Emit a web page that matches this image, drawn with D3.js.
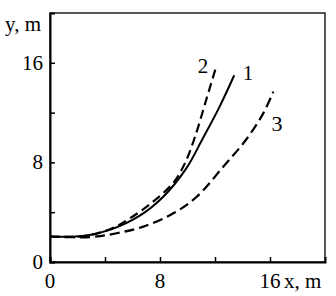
<!DOCTYPE html>
<html>
<head>
<meta charset="utf-8">
<script src="https://cdn.jsdelivr.net/npm/d3@7"></script>
<style>
  body { margin: 0; background: #fff; }
  text { font-family: "Liberation Serif", "DejaVu Serif Condensed", "DejaVu Serif", serif; font-stretch: condensed; }
</style>
</head>
<body>
<script>
// curve 1 (solid), curve 2 and 3 (dashed)
var curve1X = [0, 2.4, 4.4, 6.5, 8.2, 9.9, 11.1, 12.3, 13.4];
var curve1Y = [2.05, 2.08, 2.6, 3.7, 5.2, 7.5, 9.9, 12.4, 15.0];
var curve2X = [0, 2.4, 4.4, 5.8, 7.5, 9.0, 9.8, 10.5, 11.3, 12.05];
var curve2Y = [2.05, 2.08, 2.65, 3.5, 4.85, 6.4, 7.9, 9.9, 12.8, 15.56];
var curve3X = [0, 2.91, 4.85, 6.79, 8.97, 10.67, 12.6, 14.31, 15.51, 16.24];
var curve3Y = [2.05, 2.0, 2.31, 2.84, 3.91, 5.24, 7.65, 9.9, 11.94, 13.68];
var xTicks = [0, 4, 8, 12, 16];
var yTicks = [0, 4, 8, 12, 16];
var xTickLabels = ["0", "", "8", "", "16"];
var yTickLabels = ["0", "", "8", "", "16"];

var W = 336, H = 296;
var svg = d3.select("body").append("svg")
    .attr("width", W)
    .attr("height", H);

var x = d3.scaleLinear().domain([0, 20]).range([50, 325]);
var y = d3.scaleLinear().domain([0, 20]).range([262, 13]);

// frame
svg.append("rect")
    .attr("x", x(0)).attr("y", y(20))
    .attr("width", x(20) - x(0)).attr("height", y(0) - y(20))
    .attr("fill", "none").attr("stroke", "#000").attr("stroke-width", 1.3);

var line = d3.line()
    .x(function(d) { return x(d[0]); })
    .y(function(d) { return y(d[1]); })
    .curve(d3.curveCatmullRom.alpha(0.5));

function pts(xs, ys) { return xs.map(function(v, i) { return [v, ys[i]]; }); }

svg.append("path").attr("d", line(pts(curve3X, curve3Y)))
    .attr("fill", "none").attr("stroke", "#000").attr("stroke-width", 2.2)
    .attr("stroke-dasharray", "10,5");
svg.append("path").attr("d", line(pts(curve2X, curve2Y)))
    .attr("fill", "none").attr("stroke", "#000").attr("stroke-width", 2.2)
    .attr("stroke-dasharray", "9,5");
svg.append("path").attr("d", line(pts(curve1X, curve1Y)))
    .attr("fill", "none").attr("stroke", "#000").attr("stroke-width", 2);

// axes: ticks pointing inward
var xAxis = d3.axisTop(x).tickValues(xTicks).tickSize(5)
    .tickFormat(function(d, i) { return ""; });
svg.append("g").attr("transform", "translate(0," + y(0) + ")").call(xAxis)
    .call(function(g) { g.select(".domain").attr("stroke-width", 2); g.selectAll("line").attr("stroke-width", 1.5); });
var yAxis = d3.axisRight(y).tickValues(yTicks).tickSize(5)
    .tickFormat(function(d, i) { return ""; });
svg.append("g").attr("transform", "translate(" + x(0) + ",0)").call(yAxis)
    .call(function(g) { g.select(".domain").attr("stroke-width", 2); g.selectAll("line").attr("stroke-width", 1.5); });

function label(tx, ty, s, anchor, size) {
  return svg.append("text").attr("x", tx).attr("y", ty)
      .attr("text-anchor", anchor || "start")
      .style("font-size", (size || 21) + "px")
      .attr("fill", "#000")
      .text(s);
}

// tick labels
xTicks.forEach(function(d, i) { label(x(d), 288, xTickLabels[i], "middle"); });
yTicks.forEach(function(d, i) { label(43, y(d) + 7, yTickLabels[i], "end"); });

label(284, 288, "x, m");
label(5, 31, "y, m");

// curve numbers
label(203, 73, "2", "middle");
label(248, 80, "1", "middle");
label(277, 131, "3", "middle", 22);
</script>
</body>
</html>
